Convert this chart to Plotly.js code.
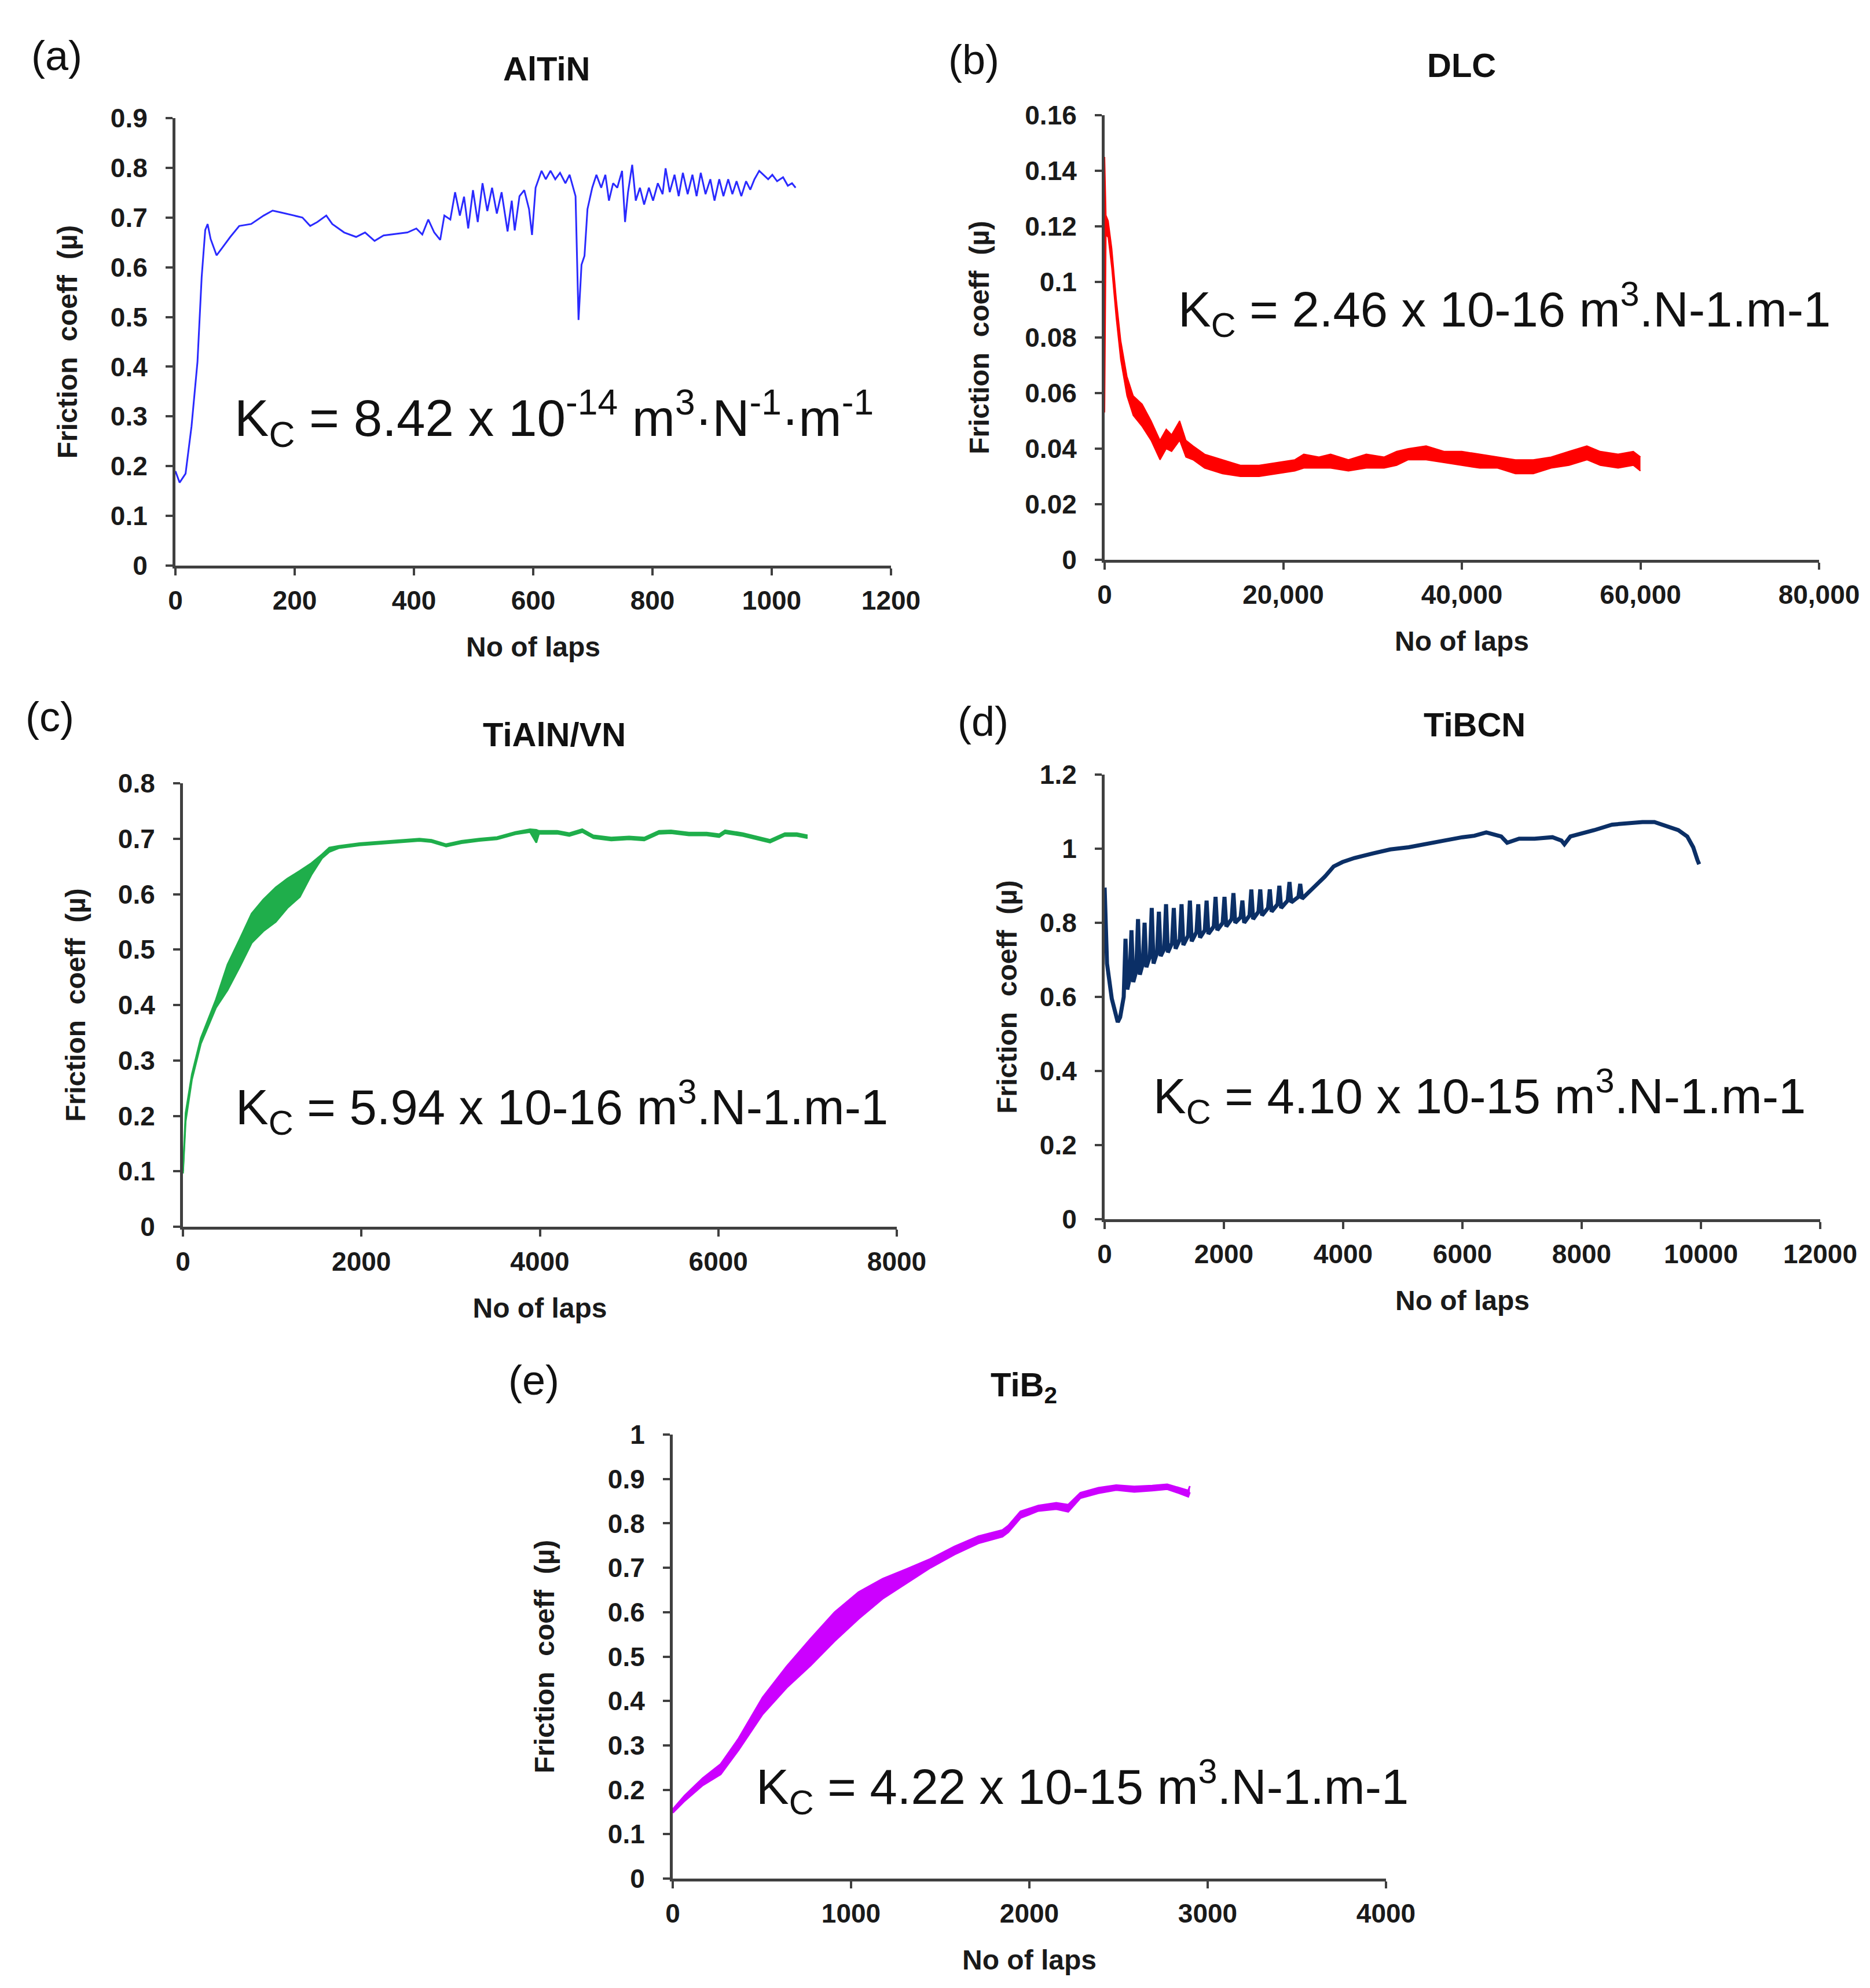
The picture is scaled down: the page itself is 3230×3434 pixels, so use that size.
<!DOCTYPE html>
<html><head><meta charset="utf-8">
<script src="https://cdn.plot.ly/plotly-3.0.1.min.js"></script>
<style>html,body{margin:0;padding:0;background:#fff}#chart{width:3230px;height:3434px}</style>
</head><body><div id="chart"></div>
<script>
// ---------- (a) AlTiN ----------
const aX = [0,7,17,27,37,44,50,54,59,69,79,92,107,127,148,163,178,198,213,226,238,253,263,283,303,318,334,349,369,389,404,414,424,434,444,451,461,469,477,484,491,499,507,515,523,531,539,547,557,564,569,577,585,593,598,604,614,621,629,637,645,654,661,667,671,676,681,686,691,699,706,714,721,727,734,741,749,754,759,766,772,779,786,794,801,809,817,822,829,837,844,851,859,867,874,881,889,897,904,912,919,927,934,941,949,957,964,971,979,986,994,1001,1009,1019,1027,1034,1040];
const aY = [0.19,0.167,0.185,0.28,0.41,0.58,0.675,0.687,0.657,0.624,0.64,0.661,0.683,0.687,0.704,0.714,0.71,0.704,0.70,0.683,0.691,0.704,0.687,0.67,0.661,0.67,0.653,0.664,0.667,0.67,0.678,0.666,0.696,0.67,0.655,0.704,0.696,0.751,0.704,0.742,0.678,0.755,0.691,0.769,0.713,0.76,0.708,0.751,0.672,0.734,0.674,0.743,0.755,0.717,0.665,0.76,0.794,0.777,0.794,0.777,0.79,0.769,0.786,0.76,0.743,0.494,0.605,0.623,0.717,0.76,0.786,0.76,0.786,0.734,0.769,0.76,0.794,0.691,0.751,0.806,0.734,0.76,0.726,0.76,0.734,0.769,0.747,0.799,0.751,0.786,0.743,0.79,0.747,0.786,0.743,0.79,0.747,0.777,0.734,0.777,0.743,0.777,0.747,0.773,0.743,0.773,0.756,0.777,0.794,0.786,0.777,0.786,0.773,0.781,0.764,0.769,0.76];

// ---------- (b) DLC (lower / upper envelope of the noisy trace) ----------
const bX  = [0,150,400,800,1300,1800,2500,3200,4200,5200,6200,6900,7500,8400,9100,9900,11200,13200,15200,17300,19300,21300,22300,24000,25300,27300,29300,31300,32700,34000,36000,38000,40000,42000,44000,46000,48000,50000,52000,54000,55500,57500,59200,60000];
const bLo = [0.053,0.117,0.116,0.105,0.087,0.072,0.059,0.052,0.048,0.043,0.036,0.040,0.039,0.043,0.037,0.036,0.033,0.031,0.030,0.030,0.031,0.032,0.033,0.033,0.033,0.032,0.033,0.033,0.034,0.036,0.036,0.035,0.034,0.033,0.033,0.031,0.031,0.033,0.034,0.036,0.034,0.033,0.034,0.032];
const bHi = [0.145,0.124,0.122,0.112,0.094,0.079,0.066,0.059,0.056,0.050,0.043,0.047,0.045,0.050,0.043,0.041,0.038,0.036,0.034,0.034,0.035,0.036,0.038,0.037,0.038,0.036,0.038,0.037,0.039,0.040,0.041,0.039,0.039,0.038,0.037,0.036,0.036,0.037,0.039,0.041,0.039,0.038,0.039,0.037];

// ---------- (c) TiAlN/VN ----------
const cX  = [0,30,100,200,370,500,640,770,900,1040,1170,1310,1440,1560,1640,1745,1980,2315,2650,2785,2950,3120,3320,3520,3725,3890,3960,3990,4195,4330,4475,4600,4800,5000,5170,5335,5470,5670,5870,6010,6075,6275,6480,6580,6745,6880,7000];
const cLo = [0.096,0.19,0.265,0.33,0.395,0.427,0.47,0.512,0.533,0.55,0.575,0.595,0.635,0.665,0.676,0.683,0.688,0.692,0.696,0.694,0.686,0.692,0.696,0.699,0.708,0.712,0.693,0.709,0.709,0.705,0.712,0.701,0.697,0.699,0.697,0.709,0.710,0.706,0.706,0.703,0.710,0.705,0.697,0.693,0.705,0.705,0.701];
const cHi = [0.10,0.205,0.275,0.34,0.41,0.473,0.52,0.565,0.59,0.612,0.628,0.642,0.656,0.672,0.684,0.687,0.692,0.696,0.700,0.698,0.690,0.696,0.700,0.703,0.712,0.717,0.716,0.714,0.714,0.710,0.717,0.706,0.702,0.704,0.702,0.714,0.715,0.711,0.711,0.708,0.715,0.710,0.702,0.698,0.710,0.710,0.706];

// ---------- (d) TiBCN ----------
const dX = [0,40,120,220,260,320,350,380,420,450,480,530,560,590,640,670,700,760,790,820,880,910,940,1000,1030,1060,1130,1160,1190,1260,1290,1320,1400,1430,1460,1540,1570,1600,1680,1710,1740,1830,1860,1890,1980,2010,2040,2130,2160,2190,2280,2310,2340,2430,2460,2490,2580,2610,2640,2740,2770,2800,2900,2930,2960,3070,3100,3130,3250,3280,3310,3450,3520,3600,3690,3840,3990,4190,4490,4790,5100,5400,5700,6000,6200,6400,6550,6650,6750,6850,6950,7210,7510,7660,7710,7810,8010,8210,8510,8720,9020,9220,9420,9620,9770,9870,9940,9970];
const dY = [0.895,0.69,0.595,0.532,0.545,0.60,0.757,0.62,0.65,0.78,0.64,0.67,0.81,0.66,0.69,0.80,0.68,0.71,0.84,0.69,0.72,0.83,0.71,0.73,0.85,0.72,0.745,0.84,0.73,0.755,0.85,0.74,0.765,0.86,0.75,0.775,0.85,0.76,0.78,0.86,0.77,0.79,0.87,0.78,0.80,0.87,0.79,0.81,0.88,0.80,0.815,0.86,0.80,0.82,0.89,0.81,0.83,0.89,0.82,0.84,0.89,0.83,0.85,0.90,0.84,0.86,0.91,0.855,0.87,0.905,0.865,0.885,0.895,0.91,0.924,0.952,0.964,0.975,0.987,0.998,1.004,1.012,1.022,1.031,1.035,1.044,1.038,1.033,1.016,1.021,1.027,1.027,1.031,1.022,1.012,1.033,1.041,1.05,1.065,1.068,1.072,1.072,1.062,1.05,1.033,1.004,0.97,0.958];

// ---------- (e) TiB2 ----------
const eX  = [0,67,168,269,370,504,639,773,908,1042,1176,1311,1445,1580,1714,1849,1882,1950,2050,2151,2218,2286,2387,2487,2588,2689,2773,2840,2891,2900];
const eLo = [0.148,0.175,0.21,0.235,0.29,0.37,0.43,0.48,0.535,0.585,0.63,0.665,0.70,0.73,0.755,0.77,0.78,0.812,0.828,0.832,0.826,0.857,0.868,0.875,0.871,0.874,0.877,0.868,0.86,0.87];
const eHi = [0.156,0.187,0.226,0.258,0.316,0.408,0.478,0.54,0.60,0.645,0.675,0.697,0.72,0.748,0.771,0.785,0.795,0.827,0.84,0.846,0.842,0.869,0.88,0.886,0.883,0.885,0.888,0.88,0.874,0.884];

// ---------- text ----------
const panelTitles = ['AlTiN','DLC','TiAlN/VN','TiBCN','TiB<sub>2</sub>'];
const panelLetters = ['(a)','(b)','(c)','(d)','(e)'];
const wearTexts = [
  'K<sub>C</sub> = 8.42 x 10<sup>-14</sup> m<sup>3</sup>·N<sup>-1</sup>·m<sup>-1</sup>',
  'K<sub>C</sub> = 2.46 x 10-16 m<sup>3</sup>.N-1.m-1',
  'K<sub>C</sub> = 5.94 x 10-16 m<sup>3</sup>.N-1.m-1',
  'K<sub>C</sub> = 4.10 x 10-15 m<sup>3</sup>.N-1.m-1',
  'K<sub>C</sub> = 4.22 x 10-15 m<sup>3</sup>.N-1.m-1'
];
const xTitle = 'No of laps';
const yTitle = 'Friction\u00a0 coeff\u00a0 (µ)';

const W = 3230, H = 3434;
const px = v => v / W, py = v => 1 - v / H;
const FONT = 'Liberation Sans, Arial, Helvetica, sans-serif';
const AX = '#404040';

const traces = [
  {x:aX, y:aY, xaxis:'x', yaxis:'y', mode:'lines', line:{color:'#2a2aff', width:3}},
  {x:bX, y:bLo, xaxis:'x2', yaxis:'y2', mode:'lines', line:{color:'#ff0000', width:2}},
  {x:bX, y:bHi, xaxis:'x2', yaxis:'y2', mode:'lines', fill:'tonexty', fillcolor:'#ff0000', line:{color:'#ff0000', width:2}},
  {x:cX, y:cLo, xaxis:'x3', yaxis:'y3', mode:'lines', line:{color:'#1fae4b', width:3}},
  {x:cX, y:cHi, xaxis:'x3', yaxis:'y3', mode:'lines', fill:'tonexty', fillcolor:'#1fae4b', line:{color:'#1fae4b', width:3}},
  {x:dX, y:dY, xaxis:'x4', yaxis:'y4', mode:'lines', line:{color:'#0b2f66', width:7}},
  {x:eX, y:eLo, xaxis:'x5', yaxis:'y5', mode:'lines', line:{color:'#cc00ff', width:3}},
  {x:eX, y:eHi, xaxis:'x5', yaxis:'y5', mode:'lines', fill:'tonexty', fillcolor:'#cc00ff', line:{color:'#cc00ff', width:3}}
];

function xa(dom, max, dt, anchor, fmt){
  return {domain:dom, range:[0,max], dtick:dt, tick0:0, anchor:anchor, tickformat:fmt,
    showgrid:false, zeroline:false, showline:true, linecolor:AX, linewidth:5,
    ticks:'outside', ticklen:12, tickwidth:4, tickcolor:AX, ticklabelstandoff:4,
    tickfont:{family:FONT, size:46, color:'#1a1a1a', weight:'bold'},
    title:{text:xTitle, standoff:40, font:{family:FONT, size:48, color:'#1a1a1a', weight:'bold'}}};
}
function ya(dom, max, dt, anchor, so){
  return {domain:dom, range:[0,max], dtick:dt, tick0:0, anchor:anchor,
    showgrid:false, zeroline:false, showline:true, linecolor:AX, linewidth:5,
    ticks:'outside', ticklen:12, tickwidth:4, tickcolor:AX, ticklabelstandoff:22,
    tickfont:{family:FONT, size:46, color:'#1a1a1a', weight:'bold'},
    title:{text:yTitle, standoff:so, font:{family:FONT, size:48, color:'#1a1a1a', weight:'bold'}}};
}

const titlePos = [[944,118],[2524,112],[957,1268],[2547,1251],[1768,2396]];
const letterPos = [[98,96],[1682,103],[86,1238],[1698,1246],[922,2384]];
const wearPos = [[957,722],[2598,535],[970,1912],[2555,1894],[1869,3086]];
const wearSize = [89,85,85,85,85];

const annotations = [];
for (let i = 0; i < 5; i++) {
  annotations.push({xref:'paper', yref:'paper', x:px(titlePos[i][0]), y:py(titlePos[i][1]), xanchor:'center', yanchor:'middle', showarrow:false,
    text:panelTitles[i], font:{family:FONT, size:58, color:'#111', weight:'bold'}});
  annotations.push({xref:'paper', yref:'paper', x:px(letterPos[i][0]), y:py(letterPos[i][1]), xanchor:'center', yanchor:'middle', showarrow:false,
    text:panelLetters[i], font:{family:FONT, size:72, color:'#111'}});
  annotations.push({xref:'paper', yref:'paper', x:px(wearPos[i][0]), y:py(wearPos[i][1]), xanchor:'center', yanchor:'middle', showarrow:false,
    text:wearTexts[i], font:{family:FONT, size:wearSize[i], color:'#111'}});
}

const layout = {
  width:W, height:H, margin:{l:0, r:0, t:0, b:0}, showlegend:false,
  paper_bgcolor:'#fff', plot_bgcolor:'rgba(0,0,0,0)', font:{family:FONT},
  xaxis:  xa([px(303),  px(1539)], 1200,  200,   'y',  'd'),
  yaxis:  ya([py(977),  py(204)],  0.9,   0.1,   'x',  44),
  xaxis2: xa([px(1908), px(3142)], 80000, 20000, 'y2', ','),
  yaxis2: ya([py(967),  py(199)],  0.16,  0.02,  'x2', 48),
  xaxis3: xa([px(316),  px(1549)], 8000,  2000,  'y3', 'd'),
  yaxis3: ya([py(2119), py(1353)], 0.8,   0.1,   'x3', 43),
  xaxis4: xa([px(1908), px(3144)], 12000, 2000,  'y4', 'd'),
  yaxis4: ya([py(2106), py(1338)], 1.2,   0.2,   'x4', 26),
  xaxis5: xa([px(1162), px(2394)], 4000,  1000,  'y5', 'd'),
  yaxis5: ya([py(3245), py(2478)], 1,     0.1,   'x5', 79),
  annotations: annotations
};

Plotly.newPlot('chart', traces, layout, {staticPlot:true, displayModeBar:false});
</script></body></html>
